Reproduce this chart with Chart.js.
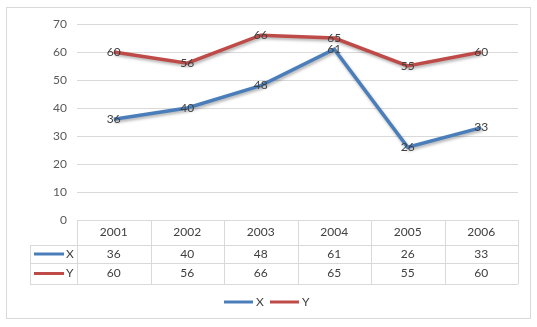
<!DOCTYPE html>
<html>
<head>
<meta charset="utf-8">
<script src="https://cdn.jsdelivr.net/npm/chart.js@4"></script>
<style>
  html, body { margin: 0; padding: 0; background: #fff; }
  #wrap { width: 537px; height: 327px; }
</style>
</head>
<body>
<div id="wrap"><canvas id="lineChart" width="537" height="327"></canvas></div>
<script>
// chart data
const years = ['2001', '2002', '2003', '2004', '2005', '2006'];
const seriesX = [36, 40, 48, 61, 26, 33];
const seriesY = [60, 56, 66, 65, 55, 60];
const seriesNames = ['X', 'Y'];
const yTicks = [0, 10, 20, 30, 40, 50, 60, 70];

const blue = '#4a7ebb';
const red = '#be4b48';
const gridColor = '#d9d9d9';
const textColor = '#404040';
const fontFamily = 'Lato, "Open Sans", sans-serif';

// draws the outer frame, the data table under the plot and the legend
const tablePlugin = {
    id: 'tablePlugin',
    beforeDraw(chart) {
        const ctx = chart.ctx;
        ctx.save();
        ctx.fillStyle = '#fff';
        ctx.fillRect(0, 0, chart.width, chart.height);
        ctx.strokeStyle = gridColor;
        ctx.lineWidth = 1;
        ctx.strokeRect(6.5, 7.5, 524, 311);
        ctx.restore();
    },
    beforeDatasetDraw(chart) {
        const ctx = chart.ctx;
        ctx.save();
        ctx.shadowColor = 'rgba(0,0,0,0.3)';
        ctx.shadowBlur = 3;
        ctx.shadowOffsetX = 1;
        ctx.shadowOffsetY = 2;
    },
    afterDatasetDraw(chart) {
        chart.ctx.restore();
    },
    afterDraw(chart) {
        const ctx = chart.ctx;
        const xs = chart.scales.x;
        const area = chart.chartArea;
        const colW = (area.right - area.left) / years.length;
        const top = area.bottom;
        const rowTops = [top, top + 25, top + 43, top + 64];
        const leftEdge = 30;

        ctx.save();
        ctx.strokeStyle = gridColor;
        ctx.lineWidth = 1;
        ctx.beginPath();
        // horizontal lines
        ctx.moveTo(area.left, Math.round(rowTops[0]) + 0.5);
        ctx.lineTo(area.right, Math.round(rowTops[0]) + 0.5);
        for (let r = 1; r < rowTops.length; r++) {
            ctx.moveTo(leftEdge, Math.round(rowTops[r]) + 0.5);
            ctx.lineTo(area.right, Math.round(rowTops[r]) + 0.5);
        }
        // vertical lines
        for (let c = 0; c <= years.length; c++) {
            const x = Math.round(area.left + c * colW) + 0.5;
            ctx.moveTo(x, rowTops[0]);
            ctx.lineTo(x, rowTops[3]);
        }
        ctx.moveTo(leftEdge + 0.5, rowTops[1]);
        ctx.lineTo(leftEdge + 0.5, rowTops[3]);
        ctx.stroke();

        ctx.font = '12px ' + fontFamily;
        ctx.fillStyle = textColor;
        ctx.textAlign = 'center';
        ctx.textBaseline = 'middle';
        const rows = [years, seriesX, seriesY];
        rows.forEach((row, r) => {
            const cy = (rowTops[r] + rowTops[r + 1]) / 2;
            row.forEach((v, i) => {
                ctx.fillText(String(v), xs.getPixelForValue(i), cy);
            });
        });

        // series keys in the table
        [blue, red].forEach((col, k) => {
            const cy = (rowTops[k + 1] + rowTops[k + 2]) / 2;
            ctx.strokeStyle = col;
            ctx.lineWidth = 3;
            ctx.beginPath();
            ctx.moveTo(34, cy);
            ctx.lineTo(64, cy);
            ctx.stroke();
            ctx.textAlign = 'left';
            ctx.fillText(seriesNames[k], 66, cy);
        });

        // legend
        const ly = 302;
        const legendX = [224, 270];
        [blue, red].forEach((col, k) => {
            ctx.strokeStyle = col;
            ctx.lineWidth = 3;
            ctx.beginPath();
            ctx.moveTo(legendX[k], ly);
            ctx.lineTo(legendX[k] + 29, ly);
            ctx.stroke();
            ctx.textAlign = 'left';
            ctx.fillText(seriesNames[k], legendX[k] + 32, ly);
        });

        // data labels centered on the points
        ctx.textAlign = 'center';
        chart.data.datasets.forEach((ds, d) => {
            const meta = chart.getDatasetMeta(d);
            meta.data.forEach((pt, i) => {
                ctx.fillText(String(ds.data[i]), pt.x, pt.y);
            });
        });
        ctx.restore();
    }
};

new Chart(document.getElementById('lineChart'), {
    type: 'line',
    data: {
        labels: years,
        datasets: [
            {
                label: seriesNames[0],
                data: seriesX,
                borderColor: blue,
                borderWidth: 3.5,
                pointRadius: 0,
                tension: 0,
                fill: false
            },
            {
                label: seriesNames[1],
                data: seriesY,
                borderColor: red,
                borderWidth: 3.5,
                pointRadius: 0,
                tension: 0,
                fill: false
            }
        ]
    },
    options: {
        responsive: false,
        animation: false,
        layout: {
            padding: { left: 6, right: 19, top: 24, bottom: 107 }
        },
        plugins: {
            legend: { display: false },
            tooltip: { enabled: false }
        },
        scales: {
            x: {
                display: false,
                offset: true
            },
            y: {
                min: 0,
                max: 70,
                afterBuildTicks: (scale) => {
                    scale.ticks = yTicks.map(v => ({ value: v }));
                },
                afterFit: (scale) => { scale.width = 71; },
                border: { display: false },
                grid: { color: gridColor, drawTicks: false },
                ticks: {
                    padding: 10,
                    color: '#595959',
                    font: { family: fontFamily, size: 12 }
                }
            }
        }
    },
    plugins: [tablePlugin]
});
</script>
</body>
</html>
